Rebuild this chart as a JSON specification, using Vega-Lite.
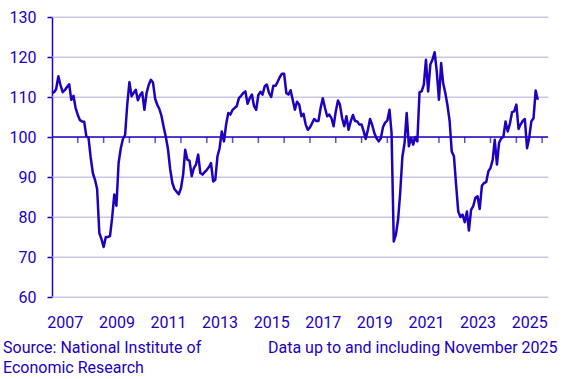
{
  "$schema": "https://vega.github.io/schema/vega-lite/v6.json",
  "width": 496,
  "height": 280,
  "autosize": {"type": "none"},
  "padding": {"left": 52, "top": 17, "right": 20, "bottom": 82},
  "background": "white",
  "config": {
    "view": {"stroke": null},
    "font": "Roboto",
    "axisY": {
      "grid": true,
      "gridColor": "#c8c8e6",
      "gridWidth": 1,
      "domainColor": "#1e00be",
      "domainWidth": 1.5,
      "tickColor": "#1e00be",
      "tickWidth": 1.5,
      "tickSize": 5,
      "labelPadding": 11,
      "labelFontSize": 16,
      "labelFont": "Roboto",
      "labelColor": "#1e00be",
      "labelOverlap": false,
      "labelFlush": false,
      "labelBound": false
    },
    "axisX": {
      "ticks": false,
      "domain": false,
      "grid": false,
      "labelPadding": 17,
      "labelFontSize": 16,
      "labelFont": "Roboto",
      "labelColor": "#1e00be",
      "labelFlush": false,
      "labelOverlap": false,
      "titleFont": "Roboto",
      "titleFontSize": 16,
      "titleFontWeight": "normal",
      "titleColor": "#1e00be"
    }
  },
  "title": {
    "text": ["Source: National Institute of", "Economic Research"],
    "orient": "bottom",
    "anchor": "start",
    "frame": "group",
    "dx": -49,
    "dy": -21,
    "offset": 6,
    "font": "Roboto",
    "fontSize": 16,
    "fontWeight": "normal",
    "color": "#1e00be",
    "lineHeight": 20
  },
  "datasets": {
    "eti": [
      {"date": "2007-01-01", "value": 111.0}, {"date": "2007-02-01", "value": 111.2}, {"date": "2007-03-01", "value": 112.0}, {"date": "2007-04-01", "value": 115.2},
      {"date": "2007-05-01", "value": 113.0}, {"date": "2007-06-01", "value": 111.2}, {"date": "2007-07-01", "value": 111.7}, {"date": "2007-08-01", "value": 112.5},
      {"date": "2007-09-01", "value": 113.2}, {"date": "2007-10-01", "value": 109.3}, {"date": "2007-11-01", "value": 110.3}, {"date": "2007-12-01", "value": 107.3},
      {"date": "2008-01-01", "value": 105.5}, {"date": "2008-02-01", "value": 104.2}, {"date": "2008-03-01", "value": 103.9}, {"date": "2008-04-01", "value": 103.8},
      {"date": "2008-05-01", "value": 100.2}, {"date": "2008-06-01", "value": 99.8}, {"date": "2008-07-01", "value": 95.0}, {"date": "2008-08-01", "value": 91.0},
      {"date": "2008-09-01", "value": 89.3}, {"date": "2008-10-01", "value": 87.0}, {"date": "2008-11-01", "value": 76.0}, {"date": "2008-12-01", "value": 74.5},
      {"date": "2009-01-01", "value": 72.5}, {"date": "2009-02-01", "value": 75.0}, {"date": "2009-03-01", "value": 75.0}, {"date": "2009-04-01", "value": 75.2},
      {"date": "2009-05-01", "value": 79.7}, {"date": "2009-06-01", "value": 85.6}, {"date": "2009-07-01", "value": 82.8}, {"date": "2009-08-01", "value": 93.5},
      {"date": "2009-09-01", "value": 97.2}, {"date": "2009-10-01", "value": 99.5}, {"date": "2009-11-01", "value": 100.5}, {"date": "2009-12-01", "value": 108.0},
      {"date": "2010-01-01", "value": 113.7}, {"date": "2010-02-01", "value": 110.2}, {"date": "2010-03-01", "value": 111.0}, {"date": "2010-04-01", "value": 111.8},
      {"date": "2010-05-01", "value": 109.2}, {"date": "2010-06-01", "value": 110.5}, {"date": "2010-07-01", "value": 111.2}, {"date": "2010-08-01", "value": 106.8},
      {"date": "2010-09-01", "value": 111.0}, {"date": "2010-10-01", "value": 113.0}, {"date": "2010-11-01", "value": 114.3}, {"date": "2010-12-01", "value": 113.6},
      {"date": "2011-01-01", "value": 109.5}, {"date": "2011-02-01", "value": 108.0}, {"date": "2011-03-01", "value": 107.0}, {"date": "2011-04-01", "value": 105.2},
      {"date": "2011-05-01", "value": 102.5}, {"date": "2011-06-01", "value": 100.0}, {"date": "2011-07-01", "value": 97.0}, {"date": "2011-08-01", "value": 92.0},
      {"date": "2011-09-01", "value": 88.5}, {"date": "2011-10-01", "value": 87.0}, {"date": "2011-11-01", "value": 86.3}, {"date": "2011-12-01", "value": 85.7},
      {"date": "2012-01-01", "value": 87.2}, {"date": "2012-02-01", "value": 90.6}, {"date": "2012-03-01", "value": 96.8}, {"date": "2012-04-01", "value": 94.3},
      {"date": "2012-05-01", "value": 94.1}, {"date": "2012-06-01", "value": 90.2}, {"date": "2012-07-01", "value": 92.2}, {"date": "2012-08-01", "value": 93.1},
      {"date": "2012-09-01", "value": 95.6}, {"date": "2012-10-01", "value": 91.0}, {"date": "2012-11-01", "value": 90.6}, {"date": "2012-12-01", "value": 91.2},
      {"date": "2013-01-01", "value": 91.8}, {"date": "2013-02-01", "value": 92.5}, {"date": "2013-03-01", "value": 93.5}, {"date": "2013-04-01", "value": 88.9},
      {"date": "2013-05-01", "value": 89.3}, {"date": "2013-06-01", "value": 95.2}, {"date": "2013-07-01", "value": 97.2}, {"date": "2013-08-01", "value": 101.4},
      {"date": "2013-09-01", "value": 98.9}, {"date": "2013-10-01", "value": 103.1}, {"date": "2013-11-01", "value": 106.0}, {"date": "2013-12-01", "value": 105.6},
      {"date": "2014-01-01", "value": 106.8}, {"date": "2014-02-01", "value": 107.3}, {"date": "2014-03-01", "value": 107.7}, {"date": "2014-04-01", "value": 109.7},
      {"date": "2014-05-01", "value": 110.3}, {"date": "2014-06-01", "value": 111.0}, {"date": "2014-07-01", "value": 111.4}, {"date": "2014-08-01", "value": 108.3},
      {"date": "2014-09-01", "value": 109.7}, {"date": "2014-10-01", "value": 110.6}, {"date": "2014-11-01", "value": 107.7}, {"date": "2014-12-01", "value": 106.8},
      {"date": "2015-01-01", "value": 110.5}, {"date": "2015-02-01", "value": 111.3}, {"date": "2015-03-01", "value": 110.6}, {"date": "2015-04-01", "value": 112.7},
      {"date": "2015-05-01", "value": 113.1}, {"date": "2015-06-01", "value": 111.0}, {"date": "2015-07-01", "value": 110.0}, {"date": "2015-08-01", "value": 112.8},
      {"date": "2015-09-01", "value": 112.8}, {"date": "2015-10-01", "value": 113.8}, {"date": "2015-11-01", "value": 115.0}, {"date": "2015-12-01", "value": 115.8},
      {"date": "2016-01-01", "value": 115.8}, {"date": "2016-02-01", "value": 111.0}, {"date": "2016-03-01", "value": 110.6}, {"date": "2016-04-01", "value": 111.7},
      {"date": "2016-05-01", "value": 109.3}, {"date": "2016-06-01", "value": 106.8}, {"date": "2016-07-01", "value": 108.8}, {"date": "2016-08-01", "value": 108.1},
      {"date": "2016-09-01", "value": 105.2}, {"date": "2016-10-01", "value": 105.8}, {"date": "2016-11-01", "value": 103.1}, {"date": "2016-12-01", "value": 101.8},
      {"date": "2017-01-01", "value": 102.4}, {"date": "2017-02-01", "value": 103.5}, {"date": "2017-03-01", "value": 104.5}, {"date": "2017-04-01", "value": 104.0},
      {"date": "2017-05-01", "value": 104.0}, {"date": "2017-06-01", "value": 107.3}, {"date": "2017-07-01", "value": 109.7}, {"date": "2017-08-01", "value": 107.3},
      {"date": "2017-09-01", "value": 105.2}, {"date": "2017-10-01", "value": 105.6}, {"date": "2017-11-01", "value": 104.7}, {"date": "2017-12-01", "value": 102.7},
      {"date": "2018-01-01", "value": 106.4}, {"date": "2018-02-01", "value": 109.1}, {"date": "2018-03-01", "value": 108.1}, {"date": "2018-04-01", "value": 104.7},
      {"date": "2018-05-01", "value": 102.7}, {"date": "2018-06-01", "value": 105.2}, {"date": "2018-07-01", "value": 101.8}, {"date": "2018-08-01", "value": 103.9},
      {"date": "2018-09-01", "value": 105.5}, {"date": "2018-10-01", "value": 104.0}, {"date": "2018-11-01", "value": 103.9}, {"date": "2018-12-01", "value": 103.1},
      {"date": "2019-01-01", "value": 103.1}, {"date": "2019-02-01", "value": 101.4}, {"date": "2019-03-01", "value": 99.5}, {"date": "2019-04-01", "value": 101.8},
      {"date": "2019-05-01", "value": 104.5}, {"date": "2019-06-01", "value": 103.0}, {"date": "2019-07-01", "value": 101.0}, {"date": "2019-08-01", "value": 99.7},
      {"date": "2019-09-01", "value": 98.9}, {"date": "2019-10-01", "value": 99.7}, {"date": "2019-11-01", "value": 102.5}, {"date": "2019-12-01", "value": 103.6},
      {"date": "2020-01-01", "value": 104.1}, {"date": "2020-02-01", "value": 106.8}, {"date": "2020-03-01", "value": 101.0}, {"date": "2020-04-01", "value": 73.9},
      {"date": "2020-05-01", "value": 75.6}, {"date": "2020-06-01", "value": 79.3}, {"date": "2020-07-01", "value": 86.0}, {"date": "2020-08-01", "value": 95.0},
      {"date": "2020-09-01", "value": 98.5}, {"date": "2020-10-01", "value": 106.0}, {"date": "2020-11-01", "value": 97.7}, {"date": "2020-12-01", "value": 99.7},
      {"date": "2021-01-01", "value": 98.1}, {"date": "2021-02-01", "value": 100.0}, {"date": "2021-03-01", "value": 98.9}, {"date": "2021-04-01", "value": 111.2},
      {"date": "2021-05-01", "value": 111.4}, {"date": "2021-06-01", "value": 113.1}, {"date": "2021-07-01", "value": 119.3}, {"date": "2021-08-01", "value": 111.4},
      {"date": "2021-09-01", "value": 118.1}, {"date": "2021-10-01", "value": 119.3}, {"date": "2021-11-01", "value": 121.2}, {"date": "2021-12-01", "value": 116.4},
      {"date": "2022-01-01", "value": 109.3}, {"date": "2022-02-01", "value": 118.5}, {"date": "2022-03-01", "value": 113.5}, {"date": "2022-04-01", "value": 111.0},
      {"date": "2022-05-01", "value": 108.0}, {"date": "2022-06-01", "value": 104.0}, {"date": "2022-07-01", "value": 96.4}, {"date": "2022-08-01", "value": 95.2},
      {"date": "2022-09-01", "value": 88.0}, {"date": "2022-10-01", "value": 81.4}, {"date": "2022-11-01", "value": 80.0}, {"date": "2022-12-01", "value": 80.6},
      {"date": "2023-01-01", "value": 78.7}, {"date": "2023-02-01", "value": 81.4}, {"date": "2023-03-01", "value": 76.6}, {"date": "2023-04-01", "value": 81.8},
      {"date": "2023-05-01", "value": 82.7}, {"date": "2023-06-01", "value": 84.8}, {"date": "2023-07-01", "value": 85.2}, {"date": "2023-08-01", "value": 82.0},
      {"date": "2023-09-01", "value": 87.8}, {"date": "2023-10-01", "value": 88.5}, {"date": "2023-11-01", "value": 88.7}, {"date": "2023-12-01", "value": 91.4},
      {"date": "2024-01-01", "value": 92.3}, {"date": "2024-02-01", "value": 94.3}, {"date": "2024-03-01", "value": 99.3}, {"date": "2024-04-01", "value": 93.1},
      {"date": "2024-05-01", "value": 98.5}, {"date": "2024-06-01", "value": 99.7}, {"date": "2024-07-01", "value": 100.0}, {"date": "2024-08-01", "value": 103.9},
      {"date": "2024-09-01", "value": 101.4}, {"date": "2024-10-01", "value": 103.3}, {"date": "2024-11-01", "value": 106.2}, {"date": "2024-12-01", "value": 106.4},
      {"date": "2025-01-01", "value": 108.1}, {"date": "2025-02-01", "value": 102.0}, {"date": "2025-03-01", "value": 103.1}, {"date": "2025-04-01", "value": 104.0},
      {"date": "2025-05-01", "value": 104.5}, {"date": "2025-06-01", "value": 97.2}, {"date": "2025-07-01", "value": 99.7}, {"date": "2025-08-01", "value": 103.9},
      {"date": "2025-09-01", "value": 104.7}, {"date": "2025-10-01", "value": 111.6}, {"date": "2025-11-01", "value": 109.3}
    ],
    "yearstarts": [
      {"date": "2015-01-01", "level": 100}, {"date": "2008-01-01", "level": 100}, {"date": "2021-01-01", "level": 100}, {"date": "2011-01-01", "level": 100},
      {"date": "2024-01-01", "level": 100}, {"date": "2009-01-01", "level": 100}, {"date": "2018-01-01", "level": 100}, {"date": "2013-01-01", "level": 100},
      {"date": "2026-01-01", "level": 100}, {"date": "2010-01-01", "level": 100}, {"date": "2019-01-01", "level": 100}, {"date": "2016-01-01", "level": 100},
      {"date": "2022-01-01", "level": 100}, {"date": "2012-01-01", "level": 100}, {"date": "2025-01-01", "level": 100}, {"date": "2017-01-01", "level": 100},
      {"date": "2014-01-01", "level": 100}, {"date": "2023-01-01", "level": 100}, {"date": "2020-01-01", "level": 100}
    ],
    "levels": [
      {"level": 110}, {"level": 70}, {"level": 130}, {"level": 60}, {"level": 120}, {"level": 90}, {"level": 80}
    ],
    "reference": [{"level": 100}]
  },
  "layer": [
    {
      "data": {"name": "levels"},
      "mark": {"type": "rule", "color": "#c8c8e6", "strokeWidth": 1},
      "encoding": {
        "y": {
          "field": "level",
          "type": "quantitative",
          "scale": {"domain": [60, 130], "nice": false, "zero": false},
          "axis": {"values": [60, 70, 80, 90, 100, 110, 120, 130], "title": null}
        }
      }
    },
    {
      "data": {"name": "eti"},
      "mark": {"type": "line", "color": "#1e00be", "strokeWidth": 2.5, "strokeJoin": "round"},
      "encoding": {
        "x": {
          "field": "date",
          "type": "temporal",
          "scale": {"domain": [{"year": 2007, "month": 1, "date": 1}, {"year": 2026, "month": 3, "date": 25}]},
          "axis": {
            "values": [
              {"year": 2007, "month": 7, "date": 1}, {"year": 2009, "month": 7, "date": 1}, {"year": 2011, "month": 7, "date": 1},
              {"year": 2013, "month": 7, "date": 1}, {"year": 2015, "month": 7, "date": 1}, {"year": 2017, "month": 7, "date": 1},
              {"year": 2019, "month": 7, "date": 1}, {"year": 2021, "month": 7, "date": 1}, {"year": 2023, "month": 7, "date": 1},
              {"year": 2025, "month": 7, "date": 1}
            ],
            "format": "%Y",
            "title": "Data up to and including November 2025",
            "titleAnchor": "end",
            "titleAlign": "right",
            "titleBaseline": "alphabetic",
            "titleX": 505,
            "titleY": 55
          }
        },
        "y": {
          "field": "value",
          "type": "quantitative",
          "scale": {"domain": [60, 130], "nice": false, "zero": false},
          "axis": {"values": [60, 70, 80, 90, 100, 110, 120, 130], "title": null}
        }
      }
    },
    {
      "data": {"name": "reference"},
      "mark": {"type": "rule", "color": "#1e00be", "strokeWidth": 1.5},
      "encoding": {
        "y": {
          "field": "level",
          "type": "quantitative",
          "axis": {"values": [60, 70, 80, 90, 100, 110, 120, 130], "title": null}
        }
      }
    },
    {
      "data": {"name": "yearstarts"},
      "mark": {"type": "tick", "orient": "vertical", "color": "#1e00be", "size": 6, "thickness": 1.5, "yOffset": 3},
      "encoding": {
        "x": {
          "field": "date",
          "type": "temporal",
          "axis": {
            "values": [
              {"year": 2007, "month": 7, "date": 1}, {"year": 2009, "month": 7, "date": 1}, {"year": 2011, "month": 7, "date": 1},
              {"year": 2013, "month": 7, "date": 1}, {"year": 2015, "month": 7, "date": 1}, {"year": 2017, "month": 7, "date": 1},
              {"year": 2019, "month": 7, "date": 1}, {"year": 2021, "month": 7, "date": 1}, {"year": 2023, "month": 7, "date": 1},
              {"year": 2025, "month": 7, "date": 1}
            ],
            "format": "%Y",
            "title": "Data up to and including November 2025",
            "titleAnchor": "end",
            "titleAlign": "right",
            "titleBaseline": "alphabetic",
            "titleX": 505,
            "titleY": 55
          }
        },
        "y": {
          "field": "level",
          "type": "quantitative",
          "axis": {"values": [60, 70, 80, 90, 100, 110, 120, 130], "title": null}
        }
      }
    }
  ]
}
